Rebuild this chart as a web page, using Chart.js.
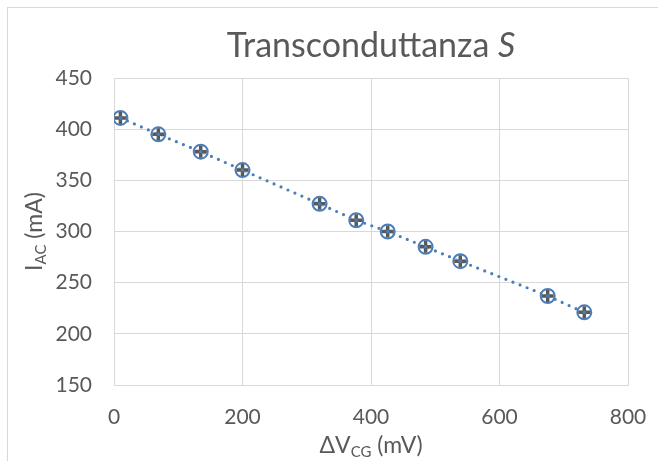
<!DOCTYPE html>
<html>
<head>
<meta charset="utf-8">
<script src="https://cdn.jsdelivr.net/npm/chart.js@4/dist/chart.umd.min.js"></script>
<style>
  html, body { margin: 0; padding: 0; background: #fff; overflow: hidden; }
  #wrap { position: relative; width: 658px; height: 461px; }
  #frame { position: absolute; left: 7px; top: 7px; width: 700px; height: 500px; border: 1px solid #d9d9d9; }
  canvas { position: absolute; left: 0; top: 0; }
</style>
</head>
<body>
<div id="wrap">
  <div id="frame"></div>
  <canvas id="chart" width="658" height="461"></canvas>
</div>
<script>
// ΔV_CG (mV) and I_AC (mA)
const vcg = [10, 69, 135, 200, 320, 377, 426, 485, 539, 675, 732];
const iac = [411, 395, 378, 360, 327, 311, 300, 285, 271, 237, 221];

const xTicks = [0, 200, 400, 600, 800];
const yTicks = [150, 200, 250, 300, 350, 400, 450];

const BLUE = "#4a7ebb";
const GREY = "#595959";
const GRID = "#d9d9d9";
const FONT = "Lato";

const points = vcg.map((x, i) => ({ x, y: iac[i] }));

// draws a run of text pieces (with subscripts) centred on cx
function drawRich(ctx, parts, cx, baseline) {
  let total = 0;
  parts.forEach(p => { ctx.font = p.font; total += ctx.measureText(p.t).width; });
  let x = cx - total / 2;
  parts.forEach(p => {
    ctx.font = p.font;
    ctx.fillText(p.t, x, baseline + (p.dy || 0));
    x += ctx.measureText(p.t).width;
  });
}

const textPlugin = {
  id: "texts",
  afterDraw(chart) {
    const { ctx, chartArea: a } = chart;
    const mid = (a.left + a.right) / 2;
    ctx.save();
    ctx.fillStyle = GREY;
    ctx.textAlign = "left";
    ctx.textBaseline = "alphabetic";

    // title
    drawRich(ctx, [
      { t: "Transconduttanza ", font: `34px ${FONT}` },
      { t: "S", font: `italic 34px ${FONT}` }
    ], mid, 57);

    // x axis title
    drawRich(ctx, [
      { t: "ΔV", font: `23px ${FONT}` },
      { t: "CG", font: `15px ${FONT}`, dy: 4 },
      { t: " (mV)", font: `23px ${FONT}` }
    ], mid, 453);

    // y axis title
    ctx.translate(42, (a.top + a.bottom) / 2);
    ctx.rotate(-Math.PI / 2);
    drawRich(ctx, [
      { t: "I", font: `23px ${FONT}` },
      { t: "AC", font: `15px ${FONT}`, dy: 4 },
      { t: " (mA)", font: `23px ${FONT}` }
    ], 0, 0);
    ctx.restore();
  }
};

new Chart(document.getElementById("chart"), {
  type: "scatter",
  data: {
    datasets: [
      {
        // dotted trend line
        data: points,
        showLine: true,
        borderColor: BLUE,
        borderWidth: 3.2,
        borderDash: [0, 7.6],
        borderCapStyle: "round",
        pointRadius: 0,
        order: 4
      },
      {
        data: points,
        pointStyle: "circle",
        pointRadius: 7,
        pointBorderWidth: 2,
        pointBorderColor: BLUE,
        pointBackgroundColor: "rgba(255,255,255,0.6)",
        order: 3
      },
      {
        data: points,
        pointStyle: "cross",
        pointRadius: 6,
        pointBorderWidth: 3.5,
        pointBorderColor: GREY,
        order: 2
      },
      {
        data: points,
        pointStyle: "circle",
        pointRadius: 1.8,
        pointBorderWidth: 0,
        pointBackgroundColor: BLUE,
        order: 1
      }
    ]
  },
  options: {
    responsive: false,
    animation: false,
    layout: { padding: { left: 0, top: 78, right: 30, bottom: 0 } },
    plugins: { legend: { display: false }, tooltip: { enabled: false }, title: { display: false } },
    scales: {
      x: {
        type: "linear",
        min: xTicks[0],
        max: xTicks[xTicks.length - 1],
        afterBuildTicks: s => { s.ticks = xTicks.map(v => ({ value: v })); },
        afterFit: s => { s.height = 76; s.paddingLeft = 0; s.paddingRight = 0; },
        grid: { color: GRID, lineWidth: 1, drawTicks: false },
        border: { color: GRID },
        ticks: { color: GREY, font: { family: FONT, size: 21 }, padding: 20 }
      },
      y: {
        type: "linear",
        min: yTicks[0],
        max: yTicks[yTicks.length - 1],
        afterBuildTicks: s => { s.ticks = yTicks.map(v => ({ value: v })); },
        afterFit: s => { s.width = 114; },
        grid: { color: GRID, lineWidth: 1, drawTicks: false },
        border: { color: GRID },
        ticks: { color: GREY, font: { family: FONT, size: 21 }, padding: 22 }
      }
    }
  },
  plugins: [textPlugin]
});
</script>
</body>
</html>
